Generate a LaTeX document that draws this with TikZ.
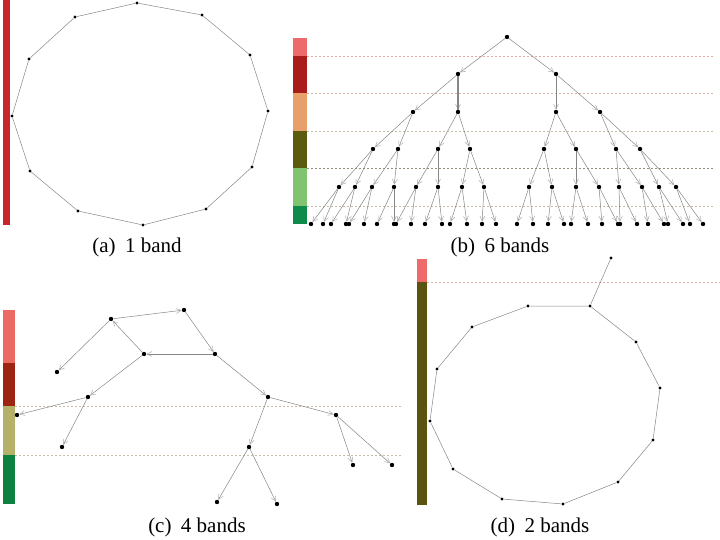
\documentclass[tikz,border=0pt]{standalone}
\usepackage{fontspec}
\setmainfont{Liberation Serif}
\usetikzlibrary{arrows.meta}

\definecolor{aRed}{RGB}{200,38,44}
\definecolor{bSalmon}{RGB}{238,107,107}
\definecolor{bDarkRed}{RGB}{170,27,27}
\definecolor{bOrange}{RGB}{232,160,106}
\definecolor{bOlive}{RGB}{92,90,14}
\definecolor{bLightGreen}{RGB}{128,196,112}
\definecolor{bGreen}{RGB}{14,138,74}
\definecolor{cSalmon}{RGB}{236,106,100}
\definecolor{cDarkRed}{RGB}{155,36,18}
\definecolor{cKhaki}{RGB}{181,176,106}
\definecolor{cGreen}{RGB}{14,128,64}
\definecolor{dOlive}{RGB}{90,84,16}
\definecolor{sepTan}{RGB}{200,188,165}
\definecolor{sepRed}{RGB}{228,170,165}

\begin{document}
\begin{tikzpicture}[
    x=1pt, y=-1pt,
    every node/.style={font=\fontsize{21}{24}\selectfont},
    dot/.style={circle, fill=black, inner sep=0pt, minimum size=4.4pt},
    sdot/.style={circle, fill=black, inner sep=0pt, minimum size=3.2pt},
    link/.style={draw=gray!95, line width=0.5pt},
    arr/.style={link, -{Straight Barb[length=5pt, width=5pt, color=gray!65]}},
    sep/.style={dash pattern=on 2pt off 2pt, line width=0.5pt},
    subcap/.style={anchor=base},
]
\useasboundingbox (0,0) rectangle (720,540);

% ---------------- (a) 1 band: ring of 12 vertices
\fill[aRed] (3,0) rectangle (10,225);
\node[sdot] (a1) at (137,3) {};
\node[sdot] (a2) at (202,15) {};
\node[sdot] (a3) at (250,55) {};
\node[sdot] (a4) at (268,111) {};
\node[sdot] (a5) at (252,167) {};
\node[sdot] (a6) at (206,209) {};
\node[sdot] (a7) at (143,225) {};
\node[sdot] (a8) at (78,211) {};
\node[sdot] (a9) at (30,171) {};
\node[sdot] (a10) at (12,116) {};
\node[sdot] (a11) at (29,59) {};
\node[sdot] (a12) at (75,17) {};
\draw[link] (a1) -- (a2) -- (a3) -- (a4) -- (a5) -- (a6) -- (a7) -- (a8)
    -- (a9) -- (a10) -- (a11) -- (a12) -- (a1);
\node[subcap] (capa) at (137,252) {(a)\hspace{0.45em}1 band};

% ---------------- (b) 6 bands: binary tree, 6 levels
\fill[bSalmon] (293,38) rectangle (307,56);
\fill[bDarkRed] (293,56) rectangle (307,93);
\fill[bOrange] (293,93) rectangle (307,131);
\fill[bOlive] (293,131) rectangle (307,168);
\fill[bLightGreen] (293,168) rectangle (307,206);
\fill[bGreen] (293,206) rectangle (307,224);
\draw[sep, sepRed] (307,56) -- (713,56);
\draw[sep, sepRed!50!sepTan] (307,93) -- (713,93);
\draw[sep, sepTan] (307,131) -- (713,131);
\draw[sep, sepTan!75!black] (307,168) -- (713,168);
\draw[sep, sepTan] (307,206) -- (713,206);

% levels 0--3
\node[dot] (t) at (507,37) {};
\node[dot] (t0) at (458,74) {};   \node[dot] (t1) at (556,74) {};
\node[dot] (t00) at (413,112) {}; \node[dot] (t01) at (458,112) {};
\node[dot] (t10) at (556,112) {}; \node[dot] (t11) at (600,112) {};
\node[dot] (t000) at (373,149) {}; \node[dot] (t001) at (398,149) {};
\node[dot] (t010) at (438,149) {}; \node[dot] (t011) at (470,149) {};
\node[dot] (t100) at (544,149) {}; \node[dot] (t101) at (576,149) {};
\node[dot] (t110) at (616,149) {}; \node[dot] (t111) at (640,149) {};
% level 4
\node[dot] (t0000) at (339,187) {}; \node[dot] (t0001) at (355,187) {};
\node[dot] (t0010) at (372,187) {}; \node[dot] (t0011) at (394,187) {};
\node[dot] (t0100) at (416,187) {}; \node[dot] (t0101) at (438,187) {};
\node[dot] (t0110) at (462,187) {}; \node[dot] (t0111) at (484,187) {};
\node[dot] (t1000) at (529,187) {}; \node[dot] (t1001) at (552,187) {};
\node[dot] (t1010) at (576,187) {}; \node[dot] (t1011) at (599,187) {};
\node[dot] (t1100) at (619,187) {}; \node[dot] (t1101) at (642,187) {};
\node[dot] (t1110) at (659,187) {}; \node[dot] (t1111) at (676,187) {};
% leaves
\node[dot] (t00000) at (311,224) {}; \node[dot] (t00001) at (323,224) {};
\node[dot] (t00010) at (331,224) {}; \node[dot] (t00011) at (346,224) {};
\node[dot] (t00100) at (349,224) {}; \node[dot] (t00101) at (364,224) {};
\node[dot] (t00110) at (377,224) {}; \node[dot] (t00111) at (394,224) {};
\node[dot] (t01000) at (396,224) {}; \node[dot] (t01001) at (411,224) {};
\node[dot] (t01010) at (425,224) {}; \node[dot] (t01011) at (442,224) {};
\node[dot] (t01100) at (450,224) {}; \node[dot] (t01101) at (467,224) {};
\node[dot] (t01110) at (482,224) {}; \node[dot] (t01111) at (496,224) {};
\node[dot] (t10000) at (517,224) {}; \node[dot] (t10001) at (533,224) {};
\node[dot] (t10010) at (548,224) {}; \node[dot] (t10011) at (564,224) {};
\node[dot] (t10100) at (571,224) {}; \node[dot] (t10101) at (588,224) {};
\node[dot] (t10110) at (602,224) {}; \node[dot] (t10111) at (618,224) {};
\node[dot] (t11000) at (620,224) {}; \node[dot] (t11001) at (637,224) {};
\node[dot] (t11010) at (648,224) {}; \node[dot] (t11011) at (664,224) {};
\node[dot] (t11100) at (668,224) {}; \node[dot] (t11101) at (683,224) {};
\node[dot] (t11110) at (690,224) {}; \node[dot] (t11111) at (703,224) {};

% parent -> both children
\foreach \p in {,0,1,00,01,10,11,000,001,010,011,100,101,110,111,
    0000,0001,0010,0011,0100,0101,0110,0111,1000,1001,1010,1011,1100,1101,1110,1111}{
  \draw[arr] (t\p) -- (t\p0);
  \draw[arr] (t\p) -- (t\p1);
}
\draw[link, line width=1.1pt] (t0) -- (t01);
\node[subcap] (capb) at (500,252) {(b)\hspace{0.45em}6 bands};

% ---------------- (c) 4 bands: directed graph
\fill[cSalmon] (3,310) rectangle (15,363);
\fill[cDarkRed] (3,363) rectangle (15,406);
\fill[cKhaki] (3,406) rectangle (15,455);
\fill[cGreen] (3,455) rectangle (15,504);
\draw[sep, sepTan] (15,406) -- (403,406);
\draw[sep, sepTan] (15,455) -- (403,455);

\node[dot] (cA) at (111,319) {};
\node[dot] (cB) at (184,310) {};
\node[dot] (cC) at (144,354) {};
\node[dot] (cD) at (215,354) {};
\node[dot] (cE) at (57,372) {};
\node[dot] (cF) at (88,397) {};
\node[dot] (cG) at (17,415) {};
\node[dot] (cH) at (62,447) {};
\node[dot] (cI) at (268,397) {};
\node[dot] (cJ) at (336,415) {};
\node[dot] (cK) at (249,447) {};
\node[dot] (cL) at (353,465) {};
\node[dot] (cM) at (392,465) {};
\node[dot] (cN) at (217,502) {};
\node[dot] (cO) at (277,504) {};

\draw[arr] (cA) -- (cB);
\draw[arr] (cB) -- (cD);
\draw[arr] (cD) -- (cC);
\draw[arr] (cC) -- (cA);
\draw[arr] (cA) -- (cE);
\draw[arr] (cC) -- (cF);
\draw[arr] (cF) -- (cG);
\draw[arr] (cF) -- (cH);
\draw[arr] (cD) -- (cI);
\draw[arr] (cI) -- (cJ);
\draw[arr] (cI) -- (cK);
\draw[arr] (cJ) -- (cL);
\draw[arr] (cJ) -- (cM);
\draw[arr] (cK) -- (cN);
\draw[arr] (cK) -- (cO);
\node[subcap] (capc) at (197,532) {(c)\hspace{0.45em}4 bands};

% ---------------- (d) 2 bands: ring with one pendant vertex
\fill[bSalmon] (417,259) rectangle (427,282);
\fill[dOlive] (417,282) rectangle (427,505);
\draw[sep, sepRed] (427,282) -- (720,282);

\node[sdot] (dtop) at (611,258) {};
\node[sdot] (d1) at (590,306) {};
\node[sdot] (d2) at (636,342) {};
\node[sdot] (d3) at (660,388) {};
\node[sdot] (d4) at (653,440) {};
\node[sdot] (d5) at (618,482) {};
\node[sdot] (d6) at (563,504) {};
\node[sdot] (d7) at (502,499) {};
\node[sdot] (d8) at (453,469) {};
\node[sdot] (d9) at (430,421) {};
\node[sdot] (d10) at (437,369) {};
\node[sdot] (d11) at (472,327) {};
\node[sdot] (d12) at (528,306) {};
\draw[link] (dtop) -- (d1);
\draw[link] (d1) -- (d2) -- (d3) -- (d4) -- (d5) -- (d6) -- (d7) -- (d8)
    -- (d9) -- (d10) -- (d11) -- (d12) -- (d1);
\node[subcap] (capd) at (540,532) {(d)\hspace{0.45em}2 bands};
\end{tikzpicture}
\end{document}
